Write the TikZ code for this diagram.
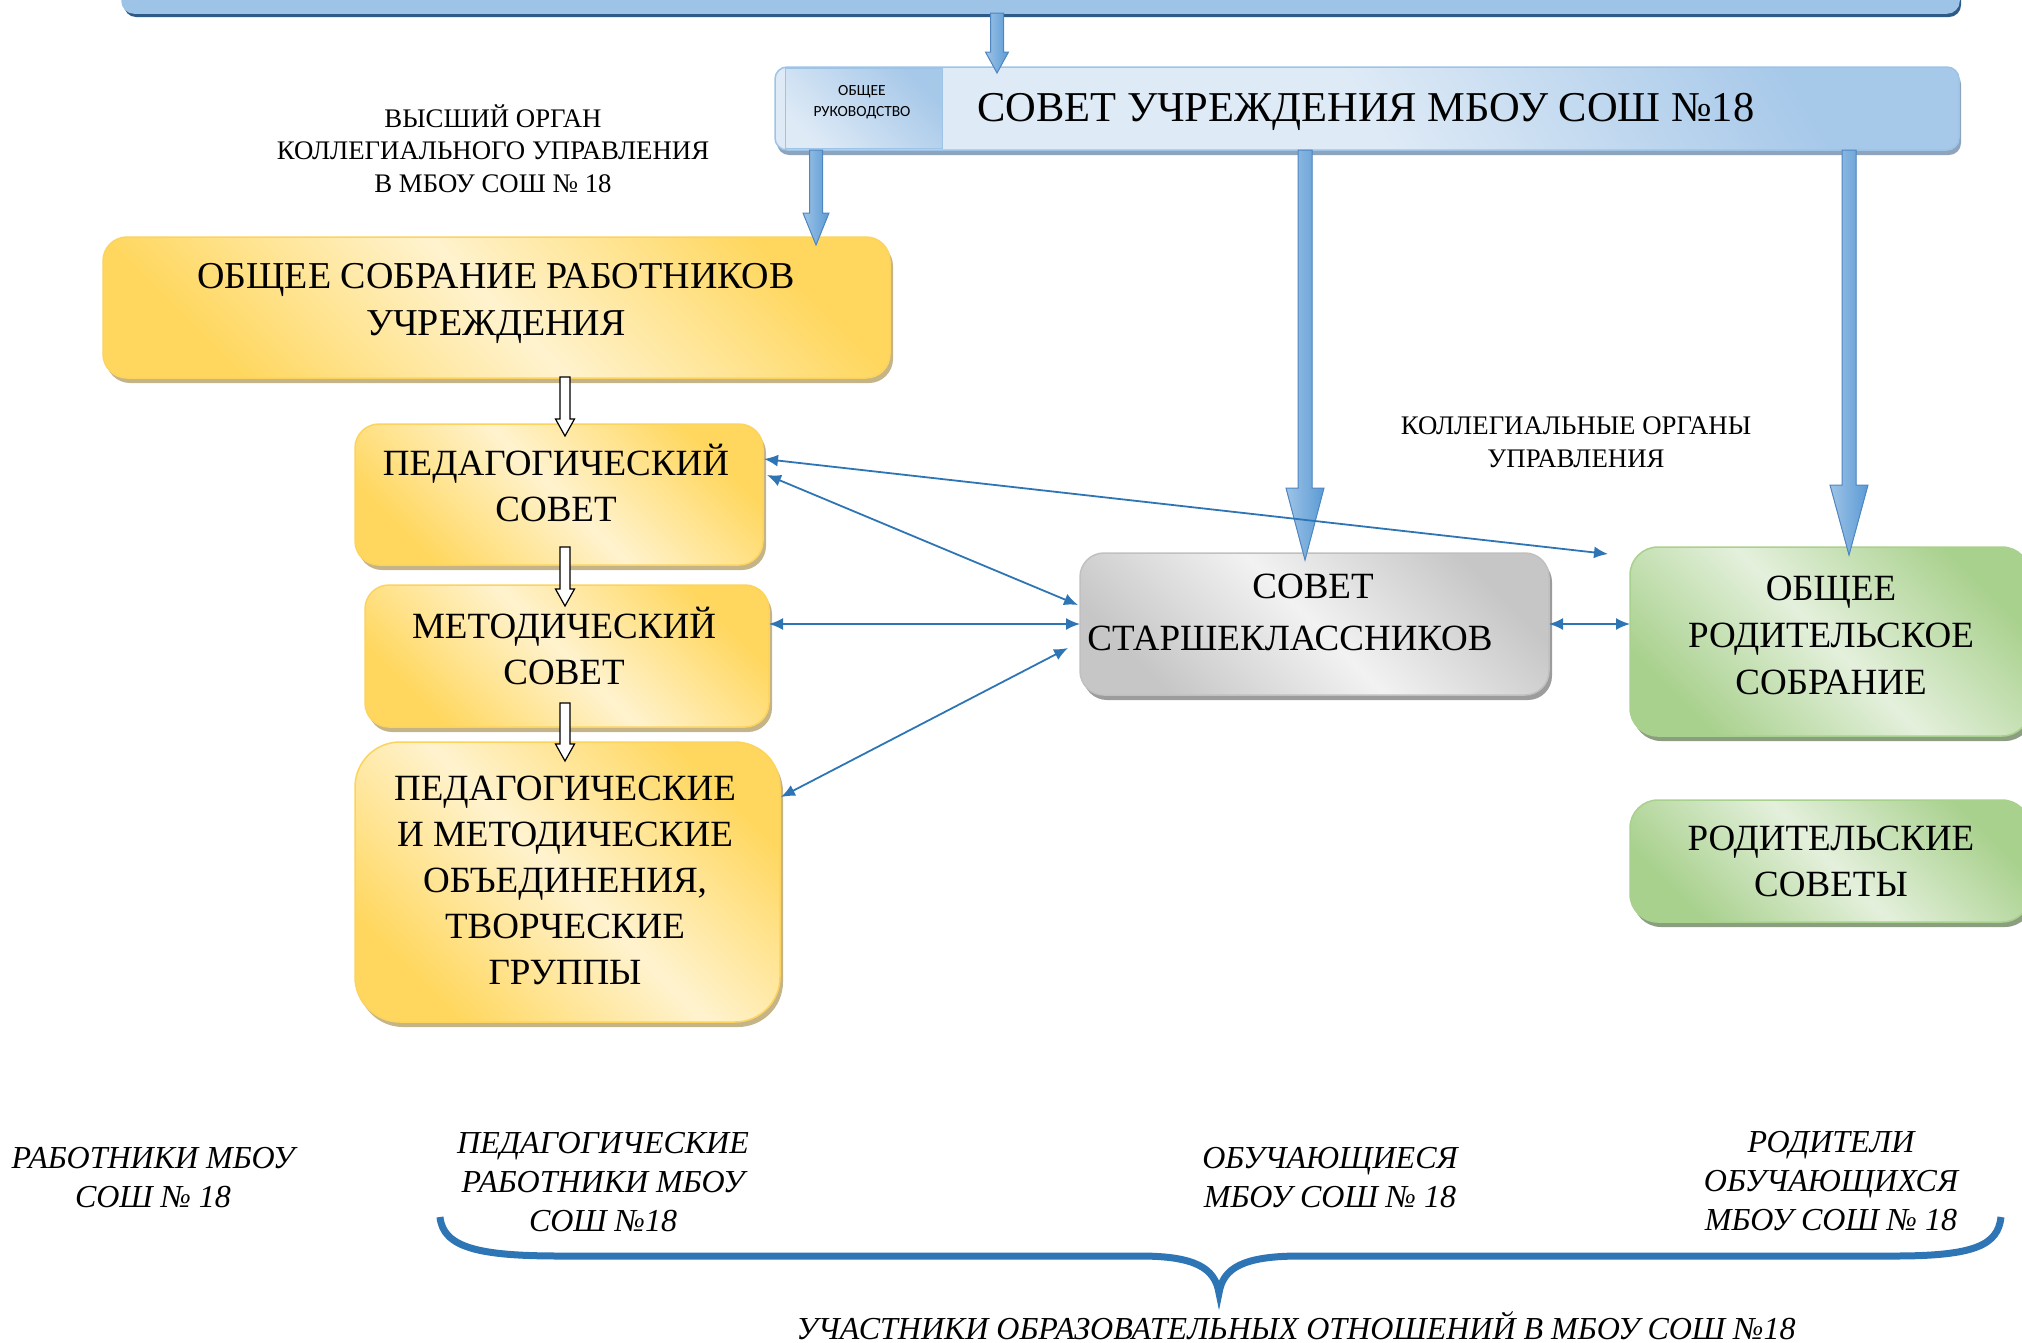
\documentclass[tikz,border=0pt]{standalone}
\usepackage{fontspec}
\setmainfont{Liberation Serif}
\newfontfamily\calibfont{Carlito}
\usetikzlibrary{calc,arrows.meta,shadows}
\definecolor{ydark}{HTML}{FFD75E}
\definecolor{ylight}{HTML}{FFF3CF}
\definecolor{yborder}{HTML}{FCD35C}
\definecolor{yshadow}{HTML}{C4B487}
\definecolor{gdark}{HTML}{C6C6C6}
\definecolor{glight}{HTML}{F2F2F2}
\definecolor{gborder}{HTML}{C0C0C0}
\definecolor{gshadow}{HTML}{9C9C9C}
\definecolor{grdark}{HTML}{A9D18E}
\definecolor{grlight}{HTML}{E4F0DC}
\definecolor{grborder}{HTML}{A9D18E}
\definecolor{grshadow}{HTML}{8C9E80}
\definecolor{bdark}{HTML}{A6C8E9}
\definecolor{blight}{HTML}{DEEAF6}
\definecolor{bborder}{HTML}{9DC3E6}
\definecolor{bshadow}{HTML}{8DA4BC}
\definecolor{barfill}{HTML}{9DC3E6}
\definecolor{barshadow}{HTML}{2E5A88}
\definecolor{fatlight}{HTML}{9DC3E6}
\definecolor{fatdark}{HTML}{5B9BD5}
\definecolor{fatline}{HTML}{4F86C0}
\definecolor{fatshadow}{HTML}{2F5E92}
\definecolor{connblue}{HTML}{2E75B6}
\newcommand\fatarr[6]{%
  \path[#1] ($(#2)+(-#4,0)$) -- ($(#3)+(-#4,-#6)$) -- ($(#3)+(-#5,-#6)$) -- (#3)
    -- ($(#3)+(#5,-#6)$) -- ($(#3)+(#4,-#6)$) -- ($(#2)+(#4,0)$) -- cycle;}
\begin{document}
\begin{tikzpicture}[x=1pt,y=-1pt,
  box/.style={draw, line width=1.5pt, inner sep=0pt, outer sep=0pt},
  ybox/.style={box, draw=yborder, left color=ydark, right color=ydark, middle color=ylight,
    shading angle=135, rounded corners=24pt,
    drop shadow={shadow xshift=3pt, shadow yshift=-5pt, fill=yshadow, opacity=1}},
  gbox/.style={box, draw=gborder, left color=gdark, right color=gdark, middle color=glight,
    shading angle=135, rounded corners=24pt,
    drop shadow={shadow xshift=3pt, shadow yshift=-5pt, fill=gshadow, opacity=1}},
  grbox/.style={box, draw=grborder, left color=grdark, right color=grdark, middle color=grlight,
    shading angle=135, rounded corners=28pt,
    drop shadow={shadow xshift=3pt, shadow yshift=-5pt, fill=grshadow, opacity=1}},
  bbox/.style={box, draw=bborder, top color=bdark, bottom color=blight, middle color=blight,
    shading angle=-60, rounded corners=12pt,
    drop shadow={shadow xshift=2pt, shadow yshift=-5pt, fill=bshadow, opacity=1}},
  rukbox/.style={box, draw=bborder, line width=1pt, top color=bdark, bottom color=blight,
    shading angle=-45},
  barbox/.style={box, draw=bborder, fill=barfill, rounded corners=12pt,
    drop shadow={shadow xshift=2pt, shadow yshift=-4pt, fill=barshadow, opacity=1}},
  t/.style={font=\fontsize{37}{46}\selectfont, align=center, inner sep=0pt, anchor=base},
  lab/.style={font=\fontsize{26.8}{32.5}\selectfont, align=center, inner sep=0pt, anchor=base},
  itl/.style={font=\fontsize{32}{39}\selectfont\itshape, align=center, inner sep=0pt, anchor=base},
  fatshade/.style={left color=fatlight, right color=fatdark, draw=fatline, line width=1pt},
  fatshd/.style={fill=fatshadow, shift={(2.5,2.5)}},
  hollow/.style={fill=white, draw=black, line width=1.2pt},
  conn/.style={draw=connblue, line width=1.8pt, >={Latex[length=14pt,width=12pt]}, <->},
  bracestyle/.style={draw=connblue, line width=7pt}
]
\useasboundingbox (0,0) rectangle (2022,1342);

% top bar
\node[barbox, minimum width=1837pt, minimum height=60pt] (topbar) at (1040.5,-17) {};

% council
\node[bbox, minimum width=1184pt, minimum height=83pt] (council) at (1367,108.5) {};
\node[rukbox, minimum width=157pt, minimum height=80pt] (ruk) at (863.5,108) {};
\node[font=\calibfont\fontsize{15.5}{21}\selectfont, align=center, inner sep=0pt, anchor=base] (rukt) at (862,116) {ОБЩЕЕ\\РУКОВОДСТВО};
\node[font=\fontsize{42.5}{50}\selectfont, inner sep=0pt, anchor=base west] (councilt) at (977,121) {СОВЕТ УЧРЕЖДЕНИЯ МБОУ СОШ №18};

% labels
\node[lab] (lab1) at (493,192) {ВЫСШИЙ ОРГАН\\КОЛЛЕГИАЛЬНОГО УПРАВЛЕНИЯ\\В МБОУ СОШ № 18};
\node[lab] (lab2) at (1576,467) {КОЛЛЕГИАЛЬНЫЕ ОРГАНЫ\\УПРАВЛЕНИЯ};

% yellow boxes
\node[ybox, minimum width=787pt, minimum height=141pt] (sobr) at (496.5,307.5) {};
\node[t, font=\fontsize{38}{47}\selectfont] (sobrt) at (496,335) {ОБЩЕЕ СОБРАНИЕ РАБОТНИКОВ\\УЧРЕЖДЕНИЯ};
\node[ybox, minimum width=408pt, minimum height=141pt] (ped) at (559,494.5) {};
\node[t] (pedt) at (556,521) {ПЕДАГОГИЧЕСКИЙ\\СОВЕТ};
\node[ybox, minimum width=404pt, minimum height=142pt] (met) at (567,656) {};
\node[t] (mett) at (564,684) {МЕТОДИЧЕСКИЙ\\СОВЕТ};
\node[ybox, rounded corners=45pt, minimum width=425pt, minimum height=280pt] (pmo) at (567.5,882) {};
\node[t] (pmot) at (565,984) {ПЕДАГОГИЧЕСКИЕ\\И МЕТОДИЧЕСКИЕ\\ОБЪЕДИНЕНИЯ,\\ТВОРЧЕСКИЕ\\ГРУППЫ};

% gray box
\node[gbox, minimum width=469pt, minimum height=142pt] (star) at (1314.5,624) {};
\node[t, font=\fontsize{37}{52}\selectfont] (start) at (1290,650) {\hspace*{46pt}СОВЕТ\\СТАРШЕКЛАССНИКОВ};

% green boxes
\node[grbox, minimum width=400pt, minimum height=189pt] (orod) at (1830,641.5) {};
\node[t, font=\fontsize{37}{47}\selectfont] (orodt) at (1831,694) {ОБЩЕЕ\\РОДИТЕЛЬСКОЕ\\СОБРАНИЕ};
\node[grbox, minimum width=400pt, minimum height=122pt] (rsov) at (1830,861) {};
\node[t] (rsovt) at (1831,896) {РОДИТЕЛЬСКИЕ\\СОВЕТЫ};

% fat arrows
\coordinate (x0) at (997,0);
\coordinate (x1) at (816,0);
\coordinate (x2) at (1305,0);
\coordinate (x3) at (1849,0);
\coordinate (a0s) at (topbar.south -| x0);
\coordinate (a0e) at ($(council.north -| x0)+(0,6)$);
\coordinate (a1s) at (council.south -| x1);
\coordinate (a1e) at ($(sobr.north -| x1)+(0,8)$);
\coordinate (a2s) at (council.south -| x2);
\coordinate (a2e) at ($(star.north -| x2)+(0,7)$);
\coordinate (a3s) at (council.south -| x3);
\coordinate (a3e) at ($(orod.north -| x3)+(0,8)$);
\fatarr{fatshd}{a0s}{a0e}{6.5}{11.5}{21}
\fatarr{fatshade}{a0s}{a0e}{6.5}{11.5}{21}
\fatarr{fatshd}{a1s}{a1e}{6.5}{13}{32}
\fatarr{fatshade}{a1s}{a1e}{6.5}{13}{32}
\fatarr{fatshd}{a2s}{a2e}{7}{19}{72}
\fatarr{fatshade}{a2s}{a2e}{7}{19}{72}
\fatarr{fatshd}{a3s}{a3e}{7}{19}{70}
\fatarr{fatshade}{a3s}{a3e}{7}{19}{70}

% hollow arrows
\coordinate (hx) at (565,0);
\coordinate (h1s) at ($(sobr.south -| hx)+(0,-1)$);
\coordinate (h1e) at ($(ped.north -| hx)+(0,12)$);
\coordinate (h2s) at ($(ped.south -| hx)+(0,-18)$);
\coordinate (h2e) at ($(met.north -| hx)+(0,21)$);
\coordinate (h3s) at ($(met.south -| hx)+(0,-24)$);
\coordinate (h3e) at ($(pmo.north -| hx)+(0,19)$);
\fatarr{hollow}{h1s}{h1e}{5}{9.5}{17}
\fatarr{hollow}{h2s}{h2e}{5}{9.5}{17}
\fatarr{hollow}{h3s}{h3e}{5}{9.5}{17}

% thin connectors
\draw[conn] ($(ped.east)+(1,-35.5)$) -- ($(orod.north west)+(-22,7)$);
\draw[conn] ($(ped.east)+(4,-19.5)$) -- ($(star.west)+(-2,-19)$);
\draw[conn] (met.east |- star.west) -- (star.west);
\draw[conn] ($(pmo.east)+(1,-85)$) -- ($(star.west)+(-12,24)$);
\draw[conn] (star.east) -- (orod.west |- star.east);

% bottom labels
\node[itl] (b1) at (153,1207) {РАБОТНИКИ МБОУ\\СОШ № 18};
\node[itl] (b2) at (603,1231) {ПЕДАГОГИЧЕСКИЕ\\РАБОТНИКИ МБОУ\\СОШ №18};
\node[itl] (b3) at (1330,1207) {ОБУЧАЮЩИЕСЯ\\МБОУ СОШ № 18};
\node[itl] (b4) at (1831,1230) {РОДИТЕЛИ\\ОБУЧАЮЩИХСЯ\\МБОУ СОШ № 18};
\node[itl] (b5) at (1296,1339) {УЧАСТНИКИ ОБРАЗОВАТЕЛЬНЫХ ОТНОШЕНИЙ В МБОУ СОШ №18};

% brace
\draw[bracestyle] (440,1217) .. controls (443,1248) and (480,1256) .. (560,1256)
  -- (1140,1256) .. controls (1195,1256) and (1215,1268) .. (1219,1293)
  .. controls (1223,1268) and (1243,1256) .. (1300,1256)
  -- (1895,1256) .. controls (1975,1256) and (1998,1245) .. (2001,1217);
\end{tikzpicture}
\end{document}
